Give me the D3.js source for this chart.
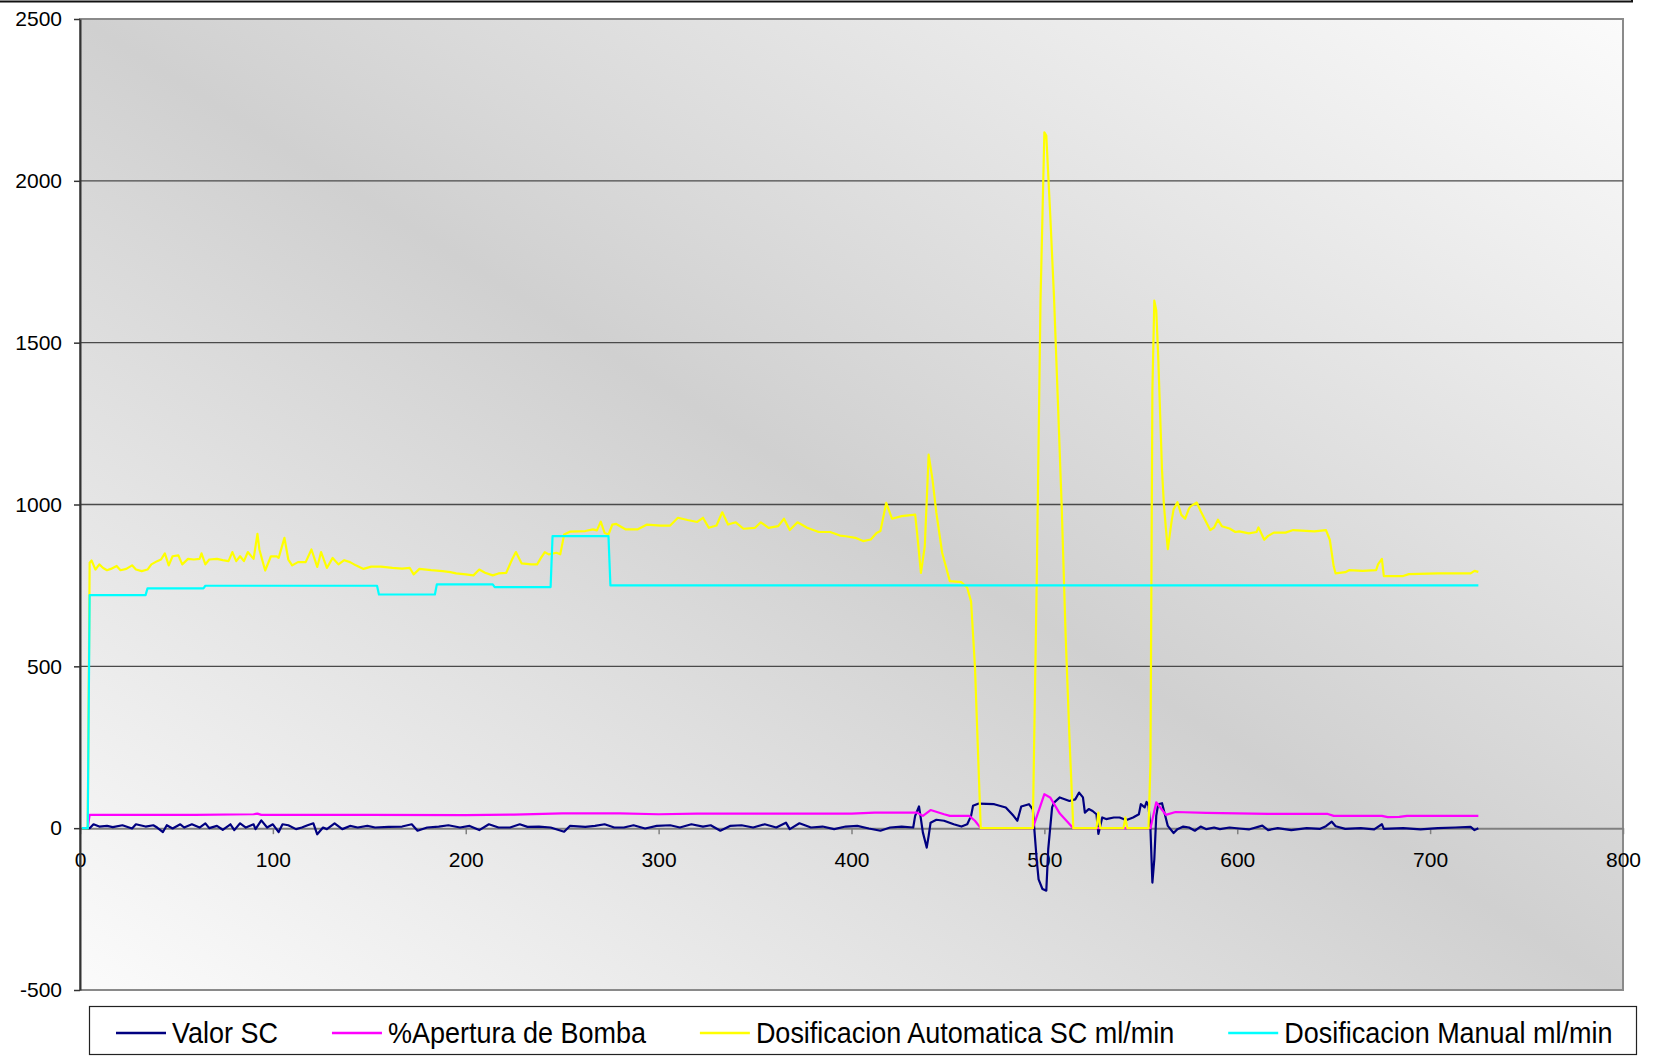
<!DOCTYPE html>
<html>
<head>
<meta charset="utf-8">
<script src="https://cdnjs.cloudflare.com/ajax/libs/d3/7.8.5/d3.min.js"></script>
<style>
	body { margin: 0; background: #fff; }
	text { font-family: "Liberation Sans", Arial, sans-serif; fill: #000; }
</style>
</head>
<body>
<div id="chart"></div>
<script>
// series names as in the legend
var seriesNames = ["Valor SC", "%Apertura de Bomba", "Dosificacion Automatica SC ml/min", "Dosificacion Manual ml/min"];
var seriesColors = ["#000080", "#ff00ff", "#ffff00", "#00ffff"];

var xTicks = [0, 100, 200, 300, 400, 500, 600, 700, 800];
var yTicks = [-500, 0, 500, 1000, 1500, 2000, 2500];

// [sample, value]
var valorSC = [[1,0],[5,0],[7,12],[10,5],[14,7],[17,3],[22,9],[27,-1],[29,12],[34,5],[38,9],[40,2],[43,-12],[45,9],[48,-1],[52,12],[54,2],[58,12],[62,2],[65,15],[67,0],[71,7],[74,-5],[78,12],[80,-6],[83,15],[86,2],[90,12],[91,-3],[94,24],[97,2],[100,12],[103,-12],[105,12],[108,9],[112,-3],[115,2],[118,9],[121,15],[123,-19],[126,2],[128,-3],[132,15],[136,-3],[140,7],[144,2],[149,7],[153,2],[160,4],[167,5],[172,12],[175,-8],[180,2],[186,5],[191,9],[197,2],[202,7],[207,-6],[212,12],[217,2],[223,2],[228,12],[232,4],[238,5],[244,2],[251,-11],[254,7],[262,4],[267,7],[272,12],[277,2],[282,2],[287,9],[293,-1],[299,7],[306,9],[311,2],[317,12],[323,5],[327,9],[332,-8],[337,7],[343,9],[349,2],[355,12],[361,2],[366,17],[368,-3],[373,15],[379,2],[385,5],[391,-3],[397,5],[403,7],[409,-1],[415,-8],[420,2],[426,5],[432,2],[433,38],[435,67],[436,28],[437,-13],[439,-60],[440,-24],[441,17],[444,26],[448,23],[453,12],[457,5],[460,12],[462,38],[463,69],[466,76],[474,74],[480,64],[484,38],[486,23],[488,67],[492,74],[494,58],[496,-96],[497,-158],[499,-188],[501,-193],[502,-65],[504,64],[505,79],[508,95],[513,84],[516,89],[518,110],[520,95],[521,48],[523,59],[525,53],[527,43],[528,-18],[530,33],[532,28],[536,33],[539,33],[541,28],[543,26],[546,33],[549,43],[550,74],[552,64],[553,81],[554,69],[555,-3],[556,-168],[557,-96],[558,38],[559,74],[561,77],[562,54],[564,7],[567,-15],[569,-3],[572,5],[575,2],[578,-8],[581,5],[584,-3],[588,2],[591,-3],[596,2],[601,-1],[606,-4],[613,8],[616,-6],[621,0],[628,-6],[636,0],[643,-2],[646,6],[649,20],[651,6],[656,-2],[664,0],[671,-4],[675,12],[676,-2],[686,0],[695,-4],[704,0],[713,2],[721,4],[723,-6],[725,0]];

var aperturaBomba = [[4,0],[5,41],[60,41],[90,43],[92,45],[94,41],[150,41],[200,40],[225,42],[250,46],[280,46],[300,43],[320,45],[400,45],[412,48],[434,48],[437,38],[441,56],[448,43],[451,38],[461,38],[464,23],[467,0],[494,0],[500,105],[503,95],[508,45],[515,0],[555,0],[558,80],[563,41],[568,50],[584,47],[616,44],[647,44],[650,38],[675,38],[678,34],[684,35],[688,38],[725,38]];

var dosifAutomatica = [[1,0],[4,0],[5,820],[6,827],[8,799],[10,815],[12,804],[14,797],[16,801],[19,810],[21,797],[24,801],[27,812],[29,799],[32,794],[35,799],[37,815],[40,825],[42,830],[44,849],[46,812],[48,840],[51,843],[53,815],[56,832],[59,830],[62,832],[63,849],[65,815],[67,830],[71,832],[74,828],[77,825],[79,853],[81,825],[83,840],[85,825],[87,853],[90,832],[92,909],[93,861],[96,796],[99,840],[102,840],[103,835],[106,897],[108,830],[110,812],[113,822],[117,822],[120,861],[123,807],[125,853],[128,804],[131,835],[134,815],[137,828],[140,822],[143,812],[147,801],[151,808],[156,808],[162,804],[167,802],[171,804],[173,784],[176,801],[182,797],[188,794],[192,791],[195,787],[200,784],[204,781],[207,799],[210,789],[214,781],[217,787],[221,789],[224,830],[226,853],[229,818],[234,815],[237,815],[239,835],[241,853],[243,846],[247,851],[249,846],[251,907],[254,916],[262,918],[266,923],[268,920],[270,947],[272,912],[274,907],[276,938],[278,940],[283,923],[289,923],[294,938],[301,935],[306,935],[310,959],[315,952],[320,946],[323,959],[326,928],[330,935],[333,976],[336,938],[340,945],[344,925],[350,928],[353,945],[357,928],[362,933],[365,956],[368,921],[372,945],[377,928],[383,915],[389,915],[394,904],[397,902],[402,897],[406,887],[410,892],[413,912],[415,918],[418,1005],[421,956],[426,964],[433,969],[434,912],[436,789],[438,871],[440,1154],[442,1077],[444,974],[447,851],[451,763],[457,760],[460,743],[462,700],[464,500],[467,0],[494,0],[496,750],[498,1630],[500,2150],[501,2140],[503,1900],[505,1640],[507,1320],[509,990],[511,600],[513,280],[515,0],[527,0],[528,48],[529,0],[541,0],[542,33],[543,0],[554,0],[555,200],[556,1350],[557,1630],[558,1600],[559,1460],[561,1105],[562,997],[563,926],[564,862],[566,950],[567,985],[569,1007],[571,968],[573,956],[575,988],[576,995],[579,1006],[581,980],[583,956],[586,921],[588,929],[590,953],[592,933],[596,926],[599,915],[601,917],[606,911],[610,915],[611,929],[614,891],[616,903],[619,913],[625,913],[629,921],[640,917],[646,921],[648,891],[650,809],[651,787],[656,791],[658,797],[665,795],[672,797],[673,815],[675,832],[676,779],[686,779],[689,785],[704,787],[721,787],[723,795],[725,792]];

var dosifManual = [[1,0],[4,0],[5,720],[34,720],[35,741],[64,741],[65,749],[154,749],[155,722],[184,722],[185,753],[214,753],[215,745],[244,745],[245,902],[274,902],[275,750],[725,750]];

function drawChart(elem) {
	var W = 1657, H = 1057;
	var margin = {top: 19, right: 34, bottom: 67, left: 80},
	    width = W - margin.left - margin.right,
	    height = H - margin.top - margin.bottom;

	var x = d3.scaleLinear().domain([0, 800]).range([0, width]);
	var y = d3.scaleLinear().domain([-500, 2500]).range([height, 0]);
	// plain numbers, hyphen for the minus sign
	var plain = function(d) { return String(d); };

	var root = d3.select(elem).append("svg")
		.attr("width", W)
		.attr("height", H);

	// bit of the chart frame showing at the top
	root.append("path")
		.attr("d", "M0,1.5H1632V-3")
		.attr("fill", "none")
		.attr("stroke", "#111")
		.attr("stroke-width", 2);

	var defs = root.append("defs");
	var grad = defs.append("linearGradient")
		.attr("id", "plotBg")
		.attr("x1", 0).attr("y1", 1).attr("x2", 1).attr("y2", 0);
	grad.append("stop").attr("offset", "0%").attr("stop-color", "#fbfbfb");
	grad.append("stop").attr("offset", "50%").attr("stop-color", "#d0d0d0");
	grad.append("stop").attr("offset", "100%").attr("stop-color", "#fbfbfb");

	var svg = root.append("g")
		.attr("transform", "translate(" + margin.left + "," + margin.top + ")");

	svg.append("rect")
		.attr("width", width)
		.attr("height", height)
		.attr("fill", "url(#plotBg)")
		.attr("stroke", "#8a8a8a")
		.attr("stroke-width", 2);

	//horizontal gridlines
	svg.append("g")
		.selectAll("line")
		.data(yTicks.filter(function(d) { return d > 0 && d < 2500; }))
		.enter().append("line")
		.attr("x1", 0).attr("x2", width)
		.attr("y1", function(d) { return y(d); })
		.attr("y2", function(d) { return y(d); })
		.attr("stroke", "#4a4a4a")
		.attr("stroke-width", 1.3);

	// x axis sits on zero
	var xAxis = svg.append("g")
		.attr("class", "axis axis--x")
		.attr("transform", "translate(0," + y(0) + ")")
		.call(d3.axisBottom(x).tickValues(xTicks).tickFormat(plain)
			.tickSize(6).tickPadding(18).tickSizeOuter(0));
	xAxis.select(".domain").attr("stroke", "#808080").attr("stroke-width", 2);
	xAxis.selectAll(".tick line").attr("stroke", "#808080").attr("stroke-width", 1.5);
	xAxis.selectAll("text").style("font-size", "21px").attr("font-family", null);

	// draw the series
	var line = d3.line()
		.x(function(d) { return x(d[0]); })
		.y(function(d) { return y(d[1]); });
	var allSeries = [valorSC, aperturaBomba, dosifAutomatica, dosifManual];
	allSeries.forEach(function(s, i) {
		svg.append("path")
			.datum(s)
			.attr("fill", "none")
			.attr("stroke", seriesColors[i])
			.attr("stroke-width", 2.2)
			.attr("stroke-linejoin", "round")
			.attr("d", line);
	});

	var yAxis = svg.append("g")
		.attr("class", "axis axis--y")
		.call(d3.axisLeft(y).tickValues(yTicks).tickFormat(plain)
			.tickSize(6).tickPadding(12).tickSizeOuter(0));
	yAxis.select(".domain").attr("stroke", "#333").attr("stroke-width", 2);
	yAxis.selectAll(".tick line").attr("stroke", "#333").attr("stroke-width", 1.5);
	yAxis.selectAll("text").style("font-size", "21px").attr("font-family", null);

	//legend box along the bottom
	var legend = root.append("g").attr("class", "legend");
	legend.append("rect")
		.attr("x", 89.5).attr("y", 1006.5)
		.attr("width", 1547).attr("height", 48)
		.attr("fill", "#fff")
		.attr("stroke", "#222")
		.attr("stroke-width", 1.2);
	var lx = 116;
	seriesNames.forEach(function(name, i) {
		legend.append("line")
			.attr("x1", lx).attr("x2", lx + 50)
			.attr("y1", 1033).attr("y2", 1033)
			.attr("stroke", seriesColors[i])
			.attr("stroke-width", 2.5);
		var t = legend.append("text")
			.attr("transform", "translate(" + (lx + 56) + ",1043) scale(0.9,1)")
			.style("font-size", "30px")
			.text(name);
		lx += 56 + t.node().getComputedTextLength() * 0.9 + 54;
	});
}

drawChart(document.getElementById("chart"));
</script>
</body>
</html>
